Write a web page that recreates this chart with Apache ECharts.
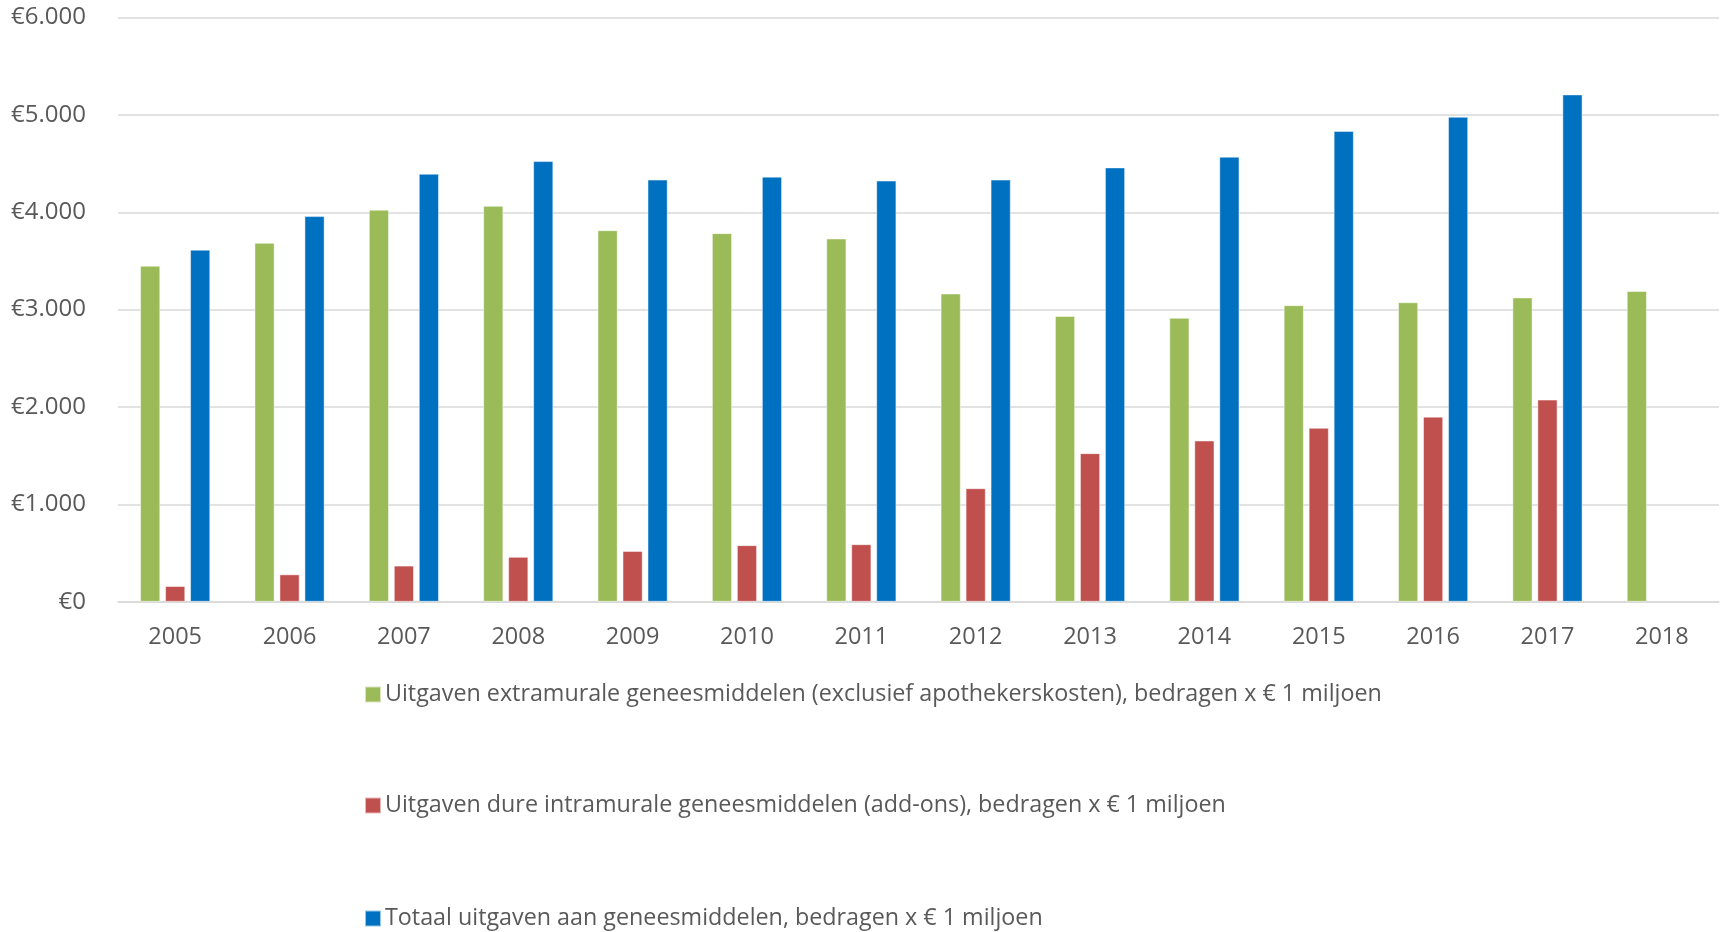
<!DOCTYPE html>
<html>
<head>
<meta charset="utf-8">
<script src="https://cdn.jsdelivr.net/npm/echarts@6/dist/echarts.min.js"></script>
<style>
  html, body { margin: 0; padding: 0; background: #ffffff; }
  #chart { width: 1725px; height: 932px; }
</style>
</head>
<body>
<div id="chart"></div>
<script>
// Jaren
const years = ['2005', '2006', '2007', '2008', '2009', '2010', '2011', '2012', '2013', '2014', '2015', '2016', '2017', '2018'];

// Uitgaven in miljoenen euro's
const extramural = [3450, 3685, 4025, 4065, 3815, 3785, 3730, 3165, 2935, 2915, 3045, 3075, 3125, 3190];
const addOns = [160, 280, 370, 460, 520, 580, 590, 1165, 1525, 1655, 1785, 1900, 2075, null];
const total = [3615, 3960, 4395, 4525, 4335, 4365, 4325, 4335, 4460, 4570, 4835, 4980, 5210, null];

const seriesNames = [
  'Uitgaven extramurale geneesmiddelen (exclusief apothekerskosten), bedragen x € 1 miljoen',
  'Uitgaven dure intramurale geneesmiddelen (add-ons), bedragen x € 1 miljoen',
  'Totaal uitgaven aan geneesmiddelen, bedragen x € 1 miljoen'
];
const seriesColors = ['#9BBB59', '#C0504D', '#0070C0'];

// Y-as: 0 t/m 6.000 in stappen van 1.000
const yMin = 0, yMax = 6000, yStep = 1000;

const FONT = '"Open Sans", "Noto Sans", sans-serif';
const TEXT_COLOR = '#595959';

function euro(v) {
  return '€' + String(v).replace(/\B(?=(\d{3})+(?!\d))/g, '.');
}

const chart = echarts.init(document.getElementById('chart'), null, { renderer: 'canvas' });

const legendTops = [678, 789, 902];

chart.setOption({
  backgroundColor: '#ffffff',
  animation: false,
  textStyle: { fontFamily: FONT },
  grid: { left: 118, right: 6, top: 17.6, bottom: 330.3, containLabel: false },
  legend: seriesNames.map((name, i) => ({
    data: [name],
    left: 359,
    top: legendTops[i],
    icon: 'rect',
    itemWidth: 16,
    itemHeight: 16,
    itemGap: 6,
    textStyle: { color: TEXT_COLOR, fontSize: 23.3, fontFamily: FONT, padding: [0, 0, 0, -1] },
    selectedMode: false
  })),
  xAxis: {
    type: 'category',
    data: years,
    axisLine: { show: true, lineStyle: { color: '#d9d9d9', width: 1.5 } },
    axisTick: { show: false },
    axisLabel: { color: TEXT_COLOR, fontSize: 23.5, fontFamily: FONT, margin: 24 },
    splitLine: { show: false }
  },
  yAxis: {
    type: 'value',
    min: yMin,
    max: yMax,
    interval: yStep,
    axisLine: { show: false },
    axisTick: { show: false },
    axisLabel: { color: TEXT_COLOR, fontSize: 24, fontFamily: FONT, margin: 32, formatter: euro },
    splitLine: { show: true, lineStyle: { color: '#d9d9d9', width: 1.5 } }
  },
  series: [extramural, addOns, total].map((values, i) => ({
    name: seriesNames[i],
    type: 'bar',
    data: values,
    barGap: '25%',
    barCategoryGap: '38.8%',
    itemStyle: { color: seriesColors[i], borderColor: 'rgba(255,255,255,0.6)', borderWidth: 0.8 }
  }))
});
</script>
</body>
</html>
